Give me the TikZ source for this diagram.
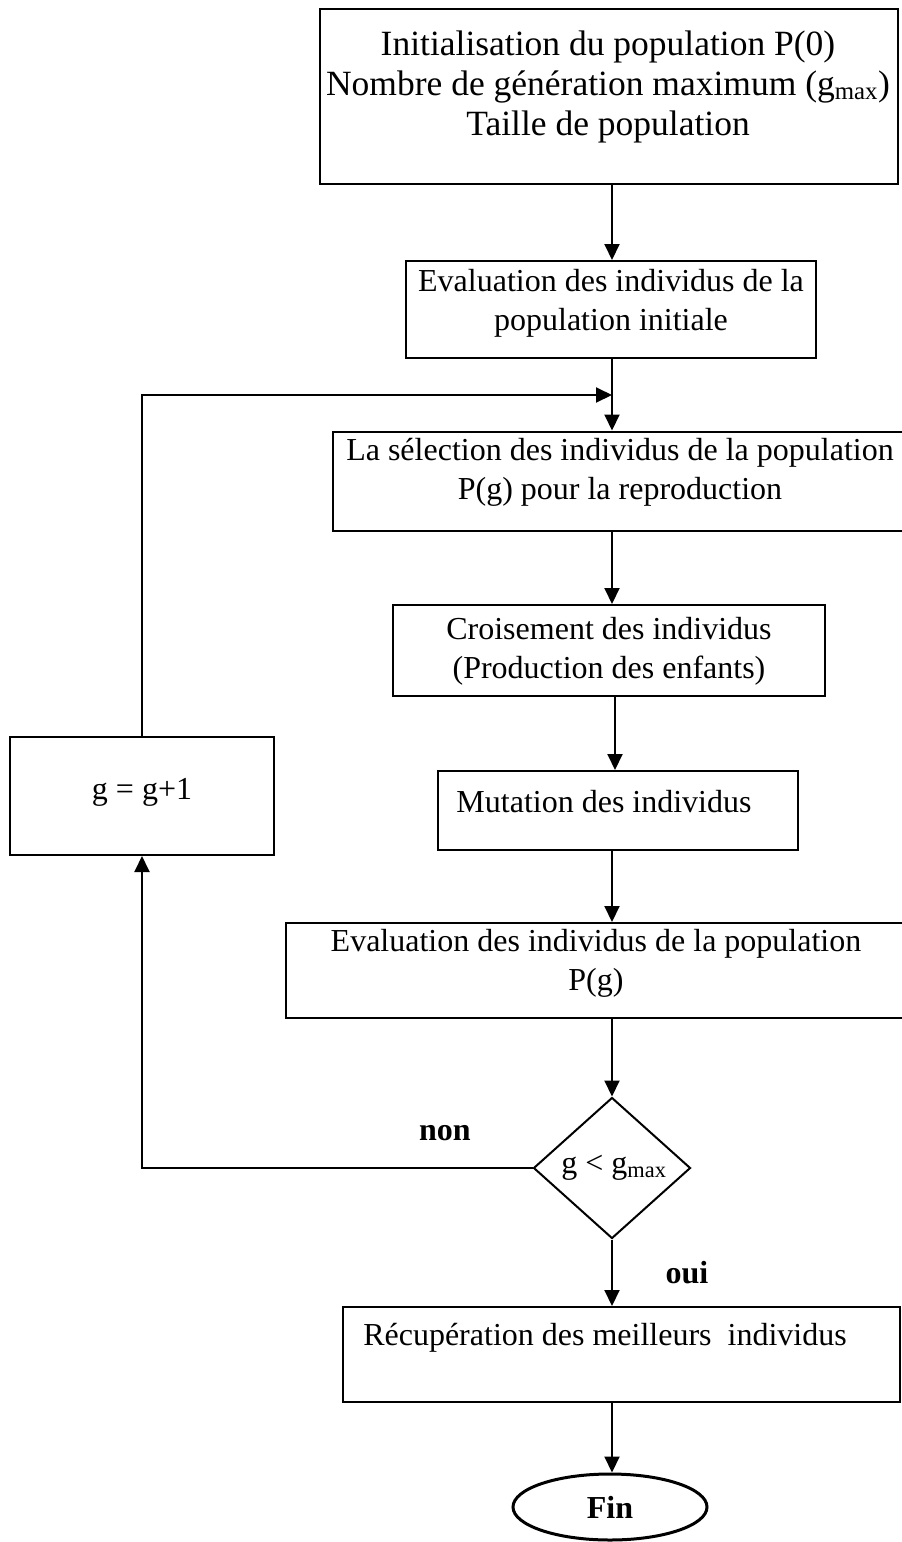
\documentclass[tikz,border=0pt]{standalone}
\usepackage{fontspec}
\setmainfont{Liberation Serif}
\usetikzlibrary{arrows.meta,shapes.geometric}
\begin{document}
\begin{tikzpicture}[x=1pt,y=-1pt,
  box/.style={draw,line width=2pt,rectangle,inner sep=0pt},
  lbl/.style={inner sep=0pt,align=center,font=\fontsize{32}{39}\selectfont},
  biglbl/.style={inner sep=0pt,align=center,font=\fontsize{35.5}{40}\selectfont},
  tag/.style={inner sep=0pt,font=\fontsize{32}{39}\selectfont\bfseries},
  arr/.style={line width=2pt,-{Triangle[length=16pt,width=15pt]}}]
\useasboundingbox (0,0) rectangle (902,1542);

% process boxes
\node[box,minimum width=578,minimum height=175] (init) at (609,96.5) {};
\node[box,minimum width=410,minimum height=97] (evalinit) at (611,309.5) {};
\node[box,minimum width=572,minimum height=99] (select) at (619,481) {};
\node[box,minimum width=432,minimum height=91] (cross) at (609,650.5) {};
\node[box,minimum width=360,minimum height=79] (mut) at (618,810.5) {};
\node[box,minimum width=619,minimum height=95] (evalg) at (595.5,970.5) {};
\node[box,minimum width=264,minimum height=118] (incr) at (142,796) {};
\node[box,minimum width=557,minimum height=95] (best) at (621.5,1354.5) {};
\node[draw,line width=2pt,diamond,inner sep=0pt,minimum width=157,minimum height=141] (test) at (612,1168) {};
\node[draw,line width=3pt,ellipse,inner sep=0pt,minimum width=194,minimum height=66,font=\fontsize{32}{39}\selectfont\bfseries] (fin) at (610,1507) {Fin};

% texts
\node[biglbl] (tinit) at (608,87) {Initialisation du population P(0)\\Nombre de génération maximum (g\textsubscript{max})\\Taille de population};
\node[lbl] (tevalinit) at (611,303) {Evaluation des individus de la\\population initiale};
\node[lbl] (tselect) at (620,472) {La sélection des individus de la population\\P(g) pour la reproduction};
\node[lbl] (tcross) at (609,651) {Croisement des individus\\(Production des enfants)};
\node[lbl] (tmut) at (604,802) {Mutation des individus};
\node[lbl] (tevalg) at (596,963) {Evaluation des individus de la population\\P(g)};
\node[lbl] (tincr) at (142,792) {g = g+1};
\node[lbl] (ttest) at (614,1168) {g < g\textsubscript{max}};
\node[lbl] (tbest) at (605,1338) {Récupération des meilleurs\ \ individus};
\node[tag] (non) at (445,1133) {non};
\node[tag] (oui) at (687,1273) {oui};

% connectors
\coordinate (spine) at (612,0);
\coordinate (mutx) at (615,0);
\coordinate (loopx) at (142,0);
\coordinate (join) at (612,395);
\draw[arr] (init.south -| spine) -- (evalinit.north -| spine);
\draw[arr] (evalinit.south -| spine) -- (select.north -| spine);
\draw[arr] (select.south -| spine) -- (cross.north -| spine);
\draw[arr] (cross.south -| mutx) -- (mut.north -| mutx);
\draw[arr] (mut.south -| spine) -- (evalg.north -| spine);
\draw[arr] (evalg.south -| spine) -- (test.north);
\draw[arr] (test.south) -- (best.north -| test.south);
\draw[arr] (best.south -| spine) -- (fin.north -| spine);
\draw[arr] (test.west) -- (test.west -| loopx) -- (incr.south);
\draw[arr] (incr.north) -- (incr.north |- join) -- (join);
\end{tikzpicture}
\end{document}
